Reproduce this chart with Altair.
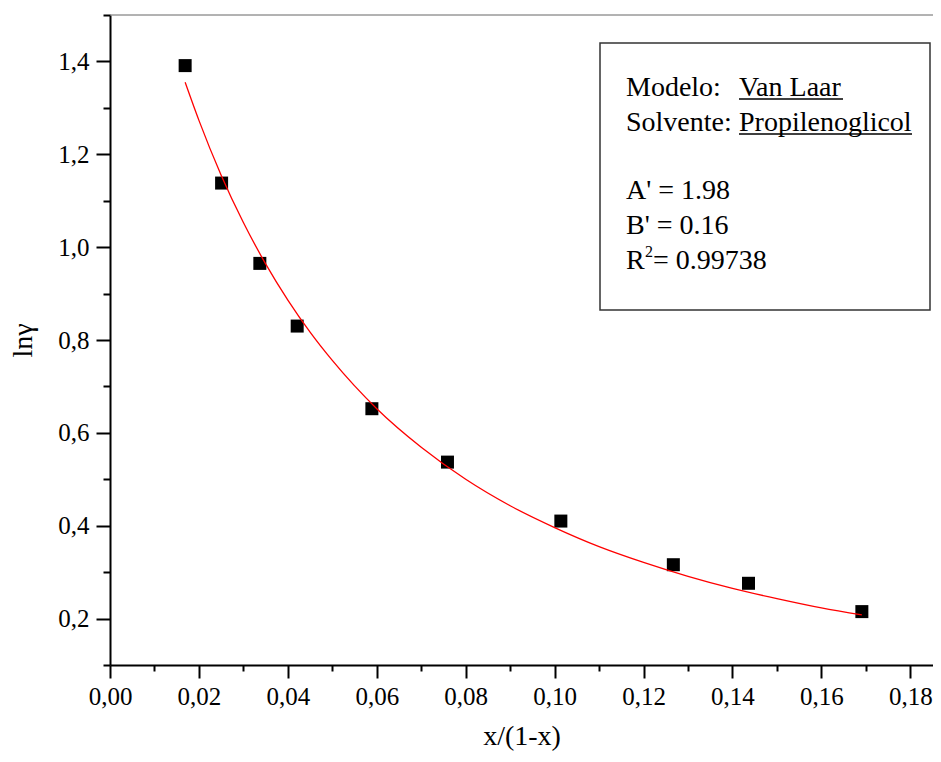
import altair as alt
import pandas as pd

# measured points
x_data = [0.0169, 0.0251, 0.0337, 0.0421, 0.0589, 0.0759, 0.1014, 0.1267, 0.1436, 0.1691]
y_data = [1.391, 1.138, 0.965, 0.830, 0.652, 0.537, 0.410, 0.316, 0.276, 0.215]

# fitted curve
fit_x = [0.0169, 0.020, 0.025, 0.030, 0.035, 0.040, 0.045, 0.050, 0.060, 0.070,
         0.080, 0.090, 0.100, 0.110, 0.120, 0.130, 0.140, 0.150, 0.160, 0.1691]
fit_y = [1.355, 1.273, 1.155, 1.053, 0.964, 0.886, 0.817, 0.756, 0.652, 0.569,
         0.500, 0.443, 0.396, 0.355, 0.321, 0.291, 0.265, 0.243, 0.223, 0.208]

x_ticks = [round(i * 0.01, 2) for i in range(19)]
y_ticks = [round(0.1 + i * 0.1, 1) for i in range(15)]

legend_lines = ["Modelo:", "Solvente:", "A' = 1.98", "B' = 0.16"]
legend_under = ["Van Laar", "Propilenoglicol"]
r2_parts = ["R", "2", "= 0.99738"]

FONT = "'Liberation Serif', 'Times New Roman', 'DejaVu Serif', serif"
W, H = 823, 650
XMAX = 0.1851

xscale = alt.Scale(domain=[0, XMAX], nice=False, zero=False)
yscale = alt.Scale(domain=[0.1, 1.5], nice=False, zero=False)

common_axis = dict(
    grid=False, domainColor="black", domainWidth=2, tickColor="black", tickWidth=2,
    labelFont=FONT, labelFontSize=25, labelColor="black",
    titleFont=FONT, titleFontSize=28, titleColor="black", titleFontWeight="normal",
)

xaxis = alt.Axis(
    values=x_ticks,
    labelExpr="round(datum.value*100)%2==0 ? replace(format(datum.value,'.2f'),'.',',') : ''",
    tickSize={"condition": {"test": "round(datum.value*100)%2==0", "value": 13}, "value": 6},
    labelPadding=6, titlePadding=13, labelFlush=False, labelOverlap=False,
    **common_axis,
)
yaxis = alt.Axis(
    values=y_ticks,
    labelExpr="round(datum.value*10)%2==0 ? replace(format(datum.value,'.1f'),'.',',') : ''",
    tickSize={"condition": {"test": "round(datum.value*10)%2==0", "value": 14}, "value": 7},
    labelPadding=7, titlePadding=20, labelFlush=False, labelOverlap=False,
    **common_axis,
)

df_pts = pd.DataFrame({"x": x_data, "y": y_data})
df_fit = pd.DataFrame({"x": fit_x, "y": fit_y})
one = pd.DataFrame({"a": [0]})

points = alt.Chart(df_pts).mark_square(size=169, color="black", opacity=1).encode(
    x=alt.X("x:Q", scale=xscale, axis=xaxis, title="x/(1-x)"),
    y=alt.Y("y:Q", scale=yscale, axis=yaxis, title="lnγ"),
)
line = alt.Chart(df_fit).mark_line(color="#ff0000", strokeWidth=1.3, interpolate="monotone").encode(
    x="x:Q", y="y:Q"
)

top = alt.Chart(one).mark_rule(color="#666666", strokeWidth=1).encode(
    x=alt.value(0), x2=alt.value(W), y=alt.value(0)
)

box = alt.Chart(one).mark_rect(fill="white", stroke="#333333", strokeWidth=1.5).encode(
    x=alt.value(490), x2=alt.value(820), y=alt.value(28), y2=alt.value(295)
)

def txt(s, x, y, size=28):
    return alt.Chart(one).mark_text(
        text=s, font=FONT, fontSize=size, color="black", align="left", baseline="alphabetic"
    ).encode(x=alt.value(x), y=alt.value(y))

LX = 516
texts = [
    txt(legend_lines[0], LX, 81),
    txt(legend_under[0], 629, 81),
    txt(legend_lines[1], LX, 116),
    txt(legend_under[1], 629, 116),
    txt(legend_lines[2], LX, 184),
    txt(legend_lines[3], LX, 219),
    txt(r2_parts[0], LX, 254),
    txt(r2_parts[1], 535, 242, size=16),
    txt(r2_parts[2], 543, 254),
]

def uline(x1, x2, y):
    return alt.Chart(one).mark_rule(color="black", strokeWidth=1.5).encode(
        x=alt.value(x1), x2=alt.value(x2), y=alt.value(y)
    )

ulines = [uline(629, 733, 84), uline(629, 802, 119)]

chart = alt.layer(points, line, top, box, *texts, *ulines).properties(
    width=W, height=H,
    padding={"left": 102, "top": 7, "right": 0, "bottom": 89},
    autosize=alt.AutoSizeParams(type="none"),
).configure_view(stroke=None)

chart.save("out.html", embed_options={"renderer": "svg", "actions": False})
